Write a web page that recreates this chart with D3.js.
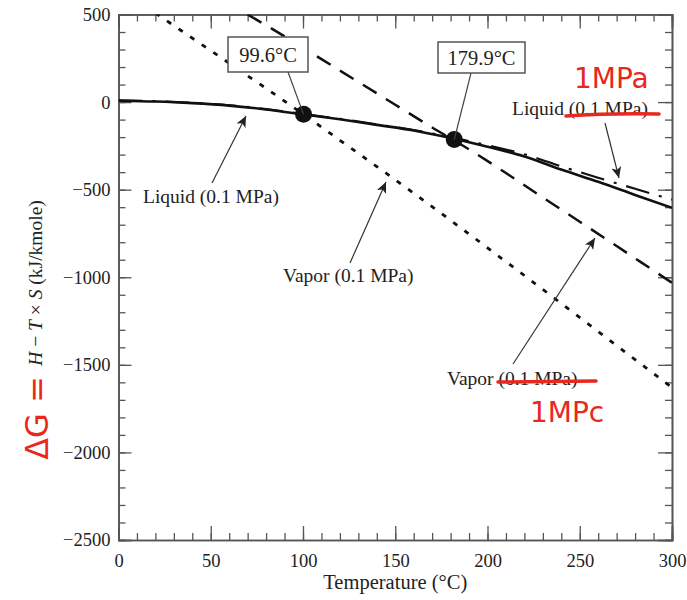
<!DOCTYPE html>
<html>
<head>
<meta charset="utf-8">
<script src="https://cdnjs.cloudflare.com/ajax/libs/d3/7.8.5/d3.min.js"></script>
<style>
  body { margin: 0; background: #fff; }
  svg { display: block; }
</style>
</head>
<body>
<svg width="687" height="600"></svg>
<script>
// temperatures (°C) and H - T*S values (kJ/kmole)
const liqTemps   = [0, 20, 40, 60, 80, 100, 120, 140, 160, 180, 200, 220, 240, 260, 280, 300];
const liquid01   = [8, 3, -6, -20, -42, -70, -98, -130, -162, -205, -255, -310, -385, -455, -530, -604];
const liquid1    = [10, 5, -4, -18, -40, -68, -96, -127, -160, -200, -247, -298, -367, -432, -495, -557];
const vap01Temps = [20, 40, 60, 80, 100, 120, 140, 160, 180, 200, 220, 240, 260, 280, 300];
const vapor01    = [508, 365, 222, 78, -68, -218, -368, -520, -675, -832, -990, -1150, -1310, -1470, -1630];
const vap1Temps  = [70, 90, 110, 130, 150, 170, 190, 210, 230, 250, 270, 290, 300];
const vapor1     = [500, 375, 245, 115, -15, -145, -270, -405, -545, -683, -822, -962, -1032];
const satTemps   = [100.3, 182];
const satValues  = [-70, -214];
const satLabels  = ["99.6°C", "179.9°C"];
const xMajor = [0, 50, 100, 150, 200, 250, 300];
const yMajor = [500, 0, -500, -1000, -1500, -2000, -2500];

const serif = "Liberation Serif, DejaVu Serif, serif";
const svg = d3.select("svg");
const margin = { left: 118.5, right: 15, top: 14.5, bottom: 60 };
const width = +svg.attr("width") - margin.left - margin.right;
const height = +svg.attr("height") - margin.top - margin.bottom;

const x = d3.scaleLinear().domain([0, 300]).range([0, width]);
const y = d3.scaleLinear().domain([-2500, 500]).range([height, 0]);

const g = svg.append("g")
  .attr("transform", "translate(" + margin.left + "," + margin.top + ")");

g.append("clipPath").attr("id", "plot-clip")
  .append("rect").attr("width", width).attr("height", height);

// axes: minor ticks every 10 / 100, major ticks with labels, all pointing inward
const xMinor = d3.range(0, 301, 10);
const yMinor = d3.range(-2500, 501, 100);

function styleAxis(sel) {
  sel.selectAll("path").attr("stroke", "#555").attr("stroke-width", 1.6);
  sel.selectAll("line").attr("stroke", "#555").attr("stroke-width", 1.3);
  sel.selectAll("text")
    .attr("font-family", serif)
    .attr("font-size", "18.5px")
    .attr("fill", "#222");
}

g.append("g").attr("transform", "translate(0," + height + ")")
  .call(d3.axisBottom(x).tickValues(xMinor).tickSize(-7).tickFormat(""))
  .call(styleAxis);
g.append("g").attr("transform", "translate(0," + height + ")")
  .call(d3.axisBottom(x).tickValues(xMajor).tickSize(-14).tickPadding(10).tickFormat(d3.format("d")))
  .call(styleAxis)
  .call(s => s.selectAll("text").attr("dy", "0.9em"));
g.append("g")
  .call(d3.axisTop(x).tickValues(xMinor).tickSize(-7).tickFormat(""))
  .call(styleAxis);
g.append("g")
  .call(d3.axisTop(x).tickValues(xMajor).tickSize(-14).tickFormat(""))
  .call(styleAxis);

const minus = d => (d < 0 ? "\u2212" + Math.abs(d) : String(d));
g.append("g")
  .call(d3.axisLeft(y).tickValues(yMinor).tickSize(-7).tickFormat(""))
  .call(styleAxis);
g.append("g")
  .call(d3.axisLeft(y).tickValues(yMajor).tickSize(-13).tickPadding(8).tickFormat(minus))
  .call(styleAxis);
g.append("g").attr("transform", "translate(" + width + ",0)")
  .call(d3.axisRight(y).tickValues(yMinor).tickSize(-7).tickFormat(""))
  .call(styleAxis);
g.append("g").attr("transform", "translate(" + width + ",0)")
  .call(d3.axisRight(y).tickValues(yMajor).tickSize(-14).tickFormat(""))
  .call(styleAxis);

// curves
const line = d3.line()
  .x(d => x(d[0]))
  .y(d => y(d[1]))
  .curve(d3.curveMonotoneX);

const curves = g.append("g").attr("clip-path", "url(#plot-clip)");

function drawCurve(temps, values, dash, w) {
  curves.append("path")
    .datum(d3.zip(temps, values))
    .attr("d", line)
    .attr("fill", "none")
    .attr("stroke", "#111")
    .attr("stroke-width", w)
    .attr("stroke-dasharray", dash);
}

drawCurve(vap01Temps, vapor01, "5,9", 2.8);
drawCurve(vap1Temps, vapor1, "16,11", 2.5);
drawCurve(liqTemps, liquid1, "24,10,3,10", 2.2);
drawCurve(liqTemps, liquid01, null, 2.6);

// callout boxes for saturation points
const boxes = [
  { x0: 228, y0: 37, w: 80, h: 35, lx: 288, ly: 72 },
  { x0: 438, y0: 42, w: 87, h: 31, lx: 471, ly: 73 }
];
satTemps.forEach(function(t, i) {
  const b = boxes[i];
  const px = margin.left + x(t), py = margin.top + y(satValues[i]);
  svg.append("line")
    .attr("x1", b.lx).attr("y1", b.ly)
    .attr("x2", px).attr("y2", py)
    .attr("stroke", "#444").attr("stroke-width", 1.2);
  svg.append("rect")
    .attr("x", b.x0).attr("y", b.y0)
    .attr("width", b.w).attr("height", b.h)
    .attr("fill", "#fff").attr("stroke", "#555").attr("stroke-width", 1.5);
  svg.append("text")
    .attr("x", b.x0 + b.w / 2).attr("y", b.y0 + b.h / 2 + 7)
    .attr("text-anchor", "middle")
    .attr("font-family", serif)
    .attr("font-size", "20.5px")
    .attr("fill", "#222")
    .text(satLabels[i]);
});

g.selectAll("circle.sat")
  .data(d3.zip(satTemps, satValues))
  .enter().append("circle")
  .attr("class", "sat")
  .attr("cx", d => x(d[0]))
  .attr("cy", d => y(d[1]))
  .attr("r", 8.5)
  .attr("fill", "#111");

// arrow annotations
svg.append("defs").append("marker")
  .attr("id", "arrow")
  .attr("viewBox", "0 0 10 10")
  .attr("refX", 10).attr("refY", 5)
  .attr("markerWidth", 11).attr("markerHeight", 11)
  .attr("markerUnits", "userSpaceOnUse")
  .attr("orient", "auto")
  .append("path").attr("d", "M0,0.5 L10,5 L0,9.5 L2.5,5 Z").attr("fill", "#222");

const notes = [
  { text: "Liquid (0.1 MPa)", tx: 143, ty: 203, x1: 212, y1: 183, x2: 246, y2: 116 },
  { text: "Vapor (0.1 MPa)", tx: 283, ty: 282, x1: 350, y1: 263, x2: 386, y2: 182 },
  { text: "Liquid (0.1 MPa)", tx: 512, ty: 115, x1: 605, y1: 123, x2: 619, y2: 178 },
  { text: "Vapor (0.1 MPa)", tx: 447, ty: 385, x1: 513, y1: 364, x2: 595, y2: 238 }
];
notes.forEach(function(n) {
  svg.append("text").attr("x", n.tx).attr("y", n.ty)
    .attr("font-family", serif)
    .attr("font-size", "19.5px")
    .attr("fill", "#222")
    .text(n.text);
  svg.append("line")
    .attr("x1", n.x1).attr("y1", n.y1).attr("x2", n.x2).attr("y2", n.y2)
    .attr("stroke", "#333").attr("stroke-width", 1.2)
    .attr("marker-end", "url(#arrow)");
});

// axis titles
svg.append("text")
  .attr("x", margin.left + width / 2).attr("y", 589)
  .attr("text-anchor", "middle")
  .attr("font-family", serif)
  .attr("font-size", "20.5px")
  .attr("fill", "#222")
  .text("Temperature (°C)");

const yTitle = svg.append("text")
  .attr("transform", "translate(42,283) rotate(-90)")
  .attr("text-anchor", "middle")
  .attr("font-family", serif)
  .attr("font-size", "19.5px")
  .attr("fill", "#222");
yTitle.append("tspan").attr("font-style", "italic").text("H");
yTitle.append("tspan").text(" \u2212 ");
yTitle.append("tspan").attr("font-style", "italic").text("T");
yTitle.append("tspan").text(" \u00d7 ");
yTitle.append("tspan").attr("font-style", "italic").text("S");
yTitle.append("tspan").text(" (kJ/kmole)");

// red hand-written corrections
const red = "#e8281c";
const hand = "DejaVu Sans, sans-serif";
svg.append("text")
  .attr("transform", "translate(48,418) rotate(-90)")
  .attr("text-anchor", "middle")
  .attr("font-family", hand)
  .attr("font-size", "32px")
  .attr("fill", red)
  .text("\u0394G =");
svg.append("text")
  .attr("x", 574).attr("y", 88)
  .attr("font-family", hand)
  .attr("font-size", "28px")
  .attr("fill", red)
  .text("1MPa");
svg.append("text")
  .attr("x", 530).attr("y", 422)
  .attr("font-family", hand)
  .attr("font-size", "28px")
  .attr("fill", red)
  .text("1MPc");
svg.append("path")
  .attr("d", "M566,116 Q610,113 659,114")
  .attr("fill", "none").attr("stroke", red).attr("stroke-width", 3.5)
  .attr("stroke-linecap", "round");
svg.append("path")
  .attr("d", "M498,382 L596,381")
  .attr("fill", "none").attr("stroke", red).attr("stroke-width", 3.5)
  .attr("stroke-linecap", "round");
</script>
</body>
</html>
